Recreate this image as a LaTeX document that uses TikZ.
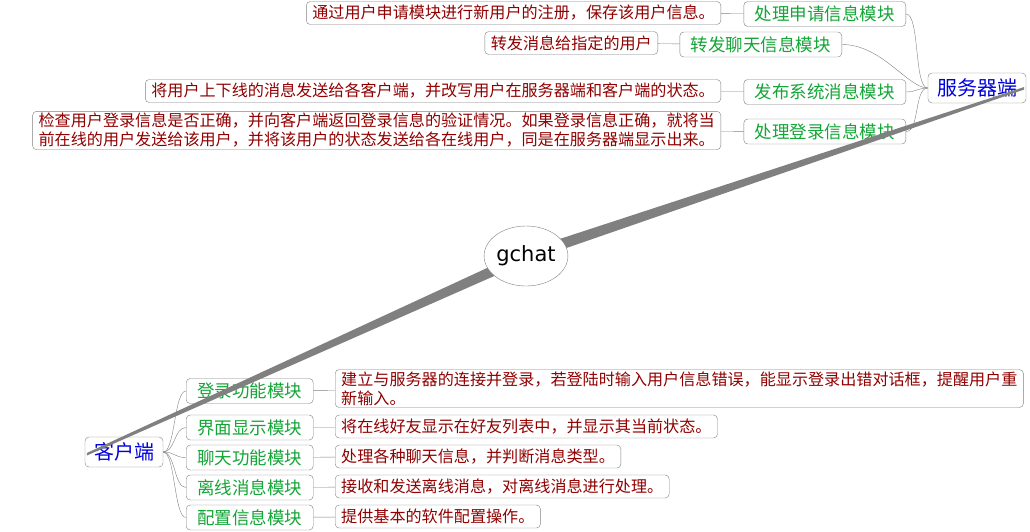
\documentclass[tikz,border=0pt]{standalone}
\usepackage{fontspec}
\setmainfont{Noto Sans CJK SC}
\newfontfamily\hubfont{DejaVu Sans}
\usetikzlibrary{shapes.geometric}
\definecolor{modgreen}{RGB}{20,165,55}
\definecolor{descred}{RGB}{145,0,0}
\definecolor{rootblue}{RGB}{0,0,220}
\definecolor{edgegray}{RGB}{128,128,128}

\begin{document}
\begin{tikzpicture}[x=1pt,y=-1pt,
		root/.style={draw=edgegray, rounded corners=4pt, fill=white, text=rootblue, font=\fontsize{20}{24}\selectfont, inner xsep=9pt, inner ysep=0pt, minimum height=30pt},
		module/.style={draw=edgegray, rounded corners=4pt, fill=white, text=modgreen, font=\fontsize{17.5}{21}\selectfont, inner xsep=11pt, inner ysep=0pt, minimum height=25pt},
		desc/.style={draw=edgegray, rounded corners=4pt, fill=white, text=descred, font=\fontsize{16.1}{19}\selectfont, inner xsep=6pt, inner ysep=2pt, minimum height=23pt, align=left},
		link/.style={draw=edgegray, thin}]
	\useasboundingbox (0,0) rectangle (1030,531);
	\coordinate (hub) at (526,256);

	% server side
	\node [root] (server) at (977,88) {服务器端};
	\node [module, anchor=east] (apply) at (906,14) {处理申请信息模块};
	\node [module, anchor=east] (chat) at (842,44.5) {转发聊天信息模块};
	\node [module, anchor=east] (notice) at (906,92) {发布系统消息模块};
	\node [module, anchor=east] (login) at (906,131.5) {处理登录信息模块};
	\node [desc, anchor=east] (applyd) at (721,13) {通过用户申请模块进行新用户的注册，保存该用户信息。};
	\node [desc, anchor=east] (chatd) at (658,43) {转发消息给指定的用户};
	\node [desc, anchor=east] (noticed) at (721,91) {将用户上下线的消息发送给各客户端，并改写用户在服务器端和客户端的状态。};
	\node [desc, anchor=east] (logind) at (721,130.5) {检查用户登录信息是否正确，并向客户端返回登录信息的验证情况。如果登录信息正确，就将当\\前在线的用户发送给该用户，并将该用户的状态发送给各在线用户，同是在服务器端显示出来。};
	\draw [link] (server.west) .. controls +(-14,0) and +(14,0) .. (apply.east);
	\draw [link] (server.west) .. controls +(-20,0) and +(40,0) .. (chat.east);
	\draw [link] (server.west) .. controls +(-10,0) and +(10,0) .. (notice.east);
	\draw [link] (server.west) .. controls +(-14,0) and +(14,0) .. (login.east);
	\draw [link] (applyd) -- (apply);
	\draw [link] (chatd) -- (chat);
	\draw [link] (noticed) -- (notice);
	\draw [link] (logind) -- (login);

	% client side
	\node [root] (client) at (124,452) {客户端};
	\node [module, anchor=west] (signin) at (186,391) {登录功能模块};
	\node [module, anchor=west] (view) at (186,427.5) {界面显示模块};
	\node [module, anchor=west] (talk) at (186,457.5) {聊天功能模块};
	\node [module, anchor=west] (offline) at (186,487.5) {离线消息模块};
	\node [module, anchor=west] (config) at (186,517.5) {配置信息模块};
	\node [desc, anchor=west] (signind) at (335,388.5) {建立与服务器的连接并登录，若登陆时输入用户信息错误，能显示登录出错对话框，提醒用户重\\新输入。};
	\node [desc, anchor=west] (viewd) at (335,426.5) {将在线好友显示在好友列表中，并显示其当前状态。};
	\node [desc, anchor=west] (talkd) at (335,456.5) {处理各种聊天信息，并判断消息类型。};
	\node [desc, anchor=west] (offlined) at (335,486.5) {接收和发送离线消息，对离线消息进行处理。};
	\node [desc, anchor=west] (configd) at (335,516.5) {提供基本的软件配置操作。};
	\foreach \m in {signin,view,talk,offline,config}
		\draw [link] (client.east) .. controls +(12,0) and +(-12,0) .. (\m.west);
	\draw [link] (signin) -- (signind);
	\draw [link] (view) -- (viewd);
	\draw [link] (talk) -- (talkd);
	\draw [link] (offline) -- (offlined);
	\draw [link] (config) -- (configd);

	% main branches
	\fill [edgegray] ([yshift=6pt]hub) -- ([xshift=-2pt, yshift=1pt]server.east) -- ([xshift=-2pt, yshift=-1.5pt]server.east) -- ([yshift=-6pt]hub) -- cycle;
	\fill [edgegray] ([yshift=6pt]hub) -- ([xshift=2pt, yshift=-1pt]client.west) -- ([xshift=2pt, yshift=-3.5pt]client.west) -- ([yshift=-6pt]hub) -- cycle;
	\node [draw=edgegray, fill=white, ellipse, minimum width=82pt, minimum height=60pt, inner sep=0pt, font=\hubfont\fontsize{21}{24}\selectfont] (gchat) at (hub) {gchat};
\end{tikzpicture}
\end{document}
